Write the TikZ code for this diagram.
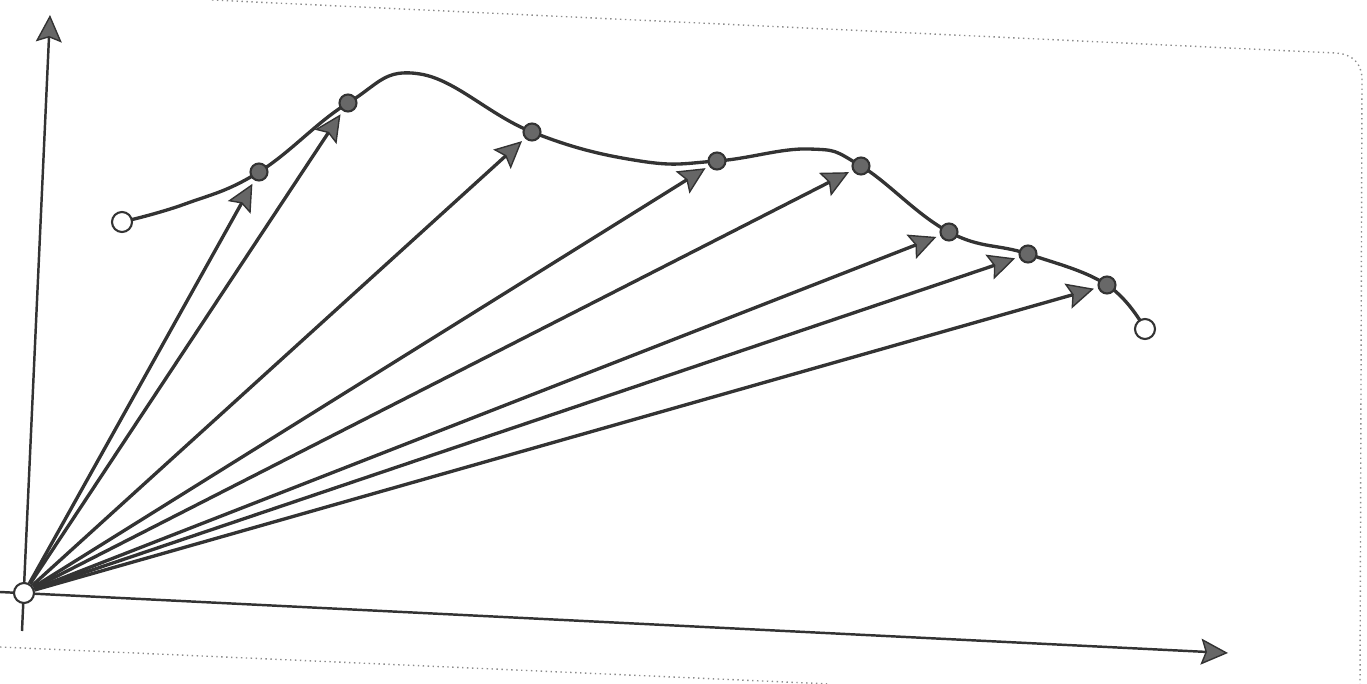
\documentclass[tikz,border=0pt]{standalone}
\usepackage{tikz}
\usetikzlibrary{arrows.meta, backgrounds}
\definecolor{ink}{HTML}{333333}
\definecolor{tipgray}{HTML}{666666}
\definecolor{dotgray}{HTML}{686868}
\tikzstyle{dot}=[circle, draw=ink, fill=dotgray, line width=0.6pt, inner sep=0pt, minimum size=1.7mm]
\tikzstyle{hole}=[circle, draw=ink, fill=white, line width=0.6pt, inner sep=0pt, minimum size=2mm]
\tikzstyle{ray}=[<-, draw=ink, line width=0.95pt, shorten <=0.4mm]
\tikzstyle{axis}=[->, draw=ink, line width=0.7pt]
\tikzstyle{curve}=[draw=ink, line width=0.95pt]
\tikzstyle{frame}=[draw=black!45, line width=0.4pt, densely dotted]

\begin{document}
\begin{tikzpicture}[x=0.1mm, y=-0.1mm, >={Stealth[length=2.7mm, width=2.6mm, inset=0.45mm, line width=0.4pt, fill=tipgray]}]
      \useasboundingbox (0,0) rectangle (1367,684);
      \coordinate (ybot) at (22,631);
      \coordinate (ytop) at (50,15);
      \coordinate (xbot) at (0,592);
      \coordinate (xtop) at (1228,653);
      \coordinate (rise) at (185,204);
      \coordinate (top) at (420,74);
      \coordinate (dip) at (640,161);
      \coordinate (bump) at (809,149);

      \node[hole] (o) at (24,593) {};
      \node[hole] (s) at (122,222) {};
      \node[dot] (p1) at (259,172) {} edge [ray] (o);
      \node[dot] (p2) at (348,103) {} edge [ray] (o);
      \node[dot] (p3) at (532,132) {} edge [ray] (o);
      \node[dot] (p4) at (717,161) {} edge [ray] (o);
      \node[dot] (p5) at (861,166) {} edge [ray] (o);
      \node[dot] (p6) at (949,232) {} edge [ray] (o);
      \node[dot] (p7) at (1028,254) {} edge [ray] (o);
      \node[dot] (p8) at (1107,285) {} edge [ray] (o);
      \node[hole] (e) at (1145,329) {};

      \begin{scope}[on background layer]
        \draw[axis] (ybot) -- (ytop);
        \draw[axis] (xbot) -- (xtop);
        \draw[curve] plot[smooth, tension=0.7] coordinates {(s) (rise) (p1) (p2) (top) (p3) (dip) (p4) (bump) (p5) (p6) (p7) (p8) (e)};
        % scanned page edge
        \draw[frame] (212,0) -- (1335,53) .. controls (1352,54) and (1361,62) .. (1362,78) -- (1360,684);
        \draw[frame] (0,647) -- (830,684);
      \end{scope}
\end{tikzpicture}
\end{document}
